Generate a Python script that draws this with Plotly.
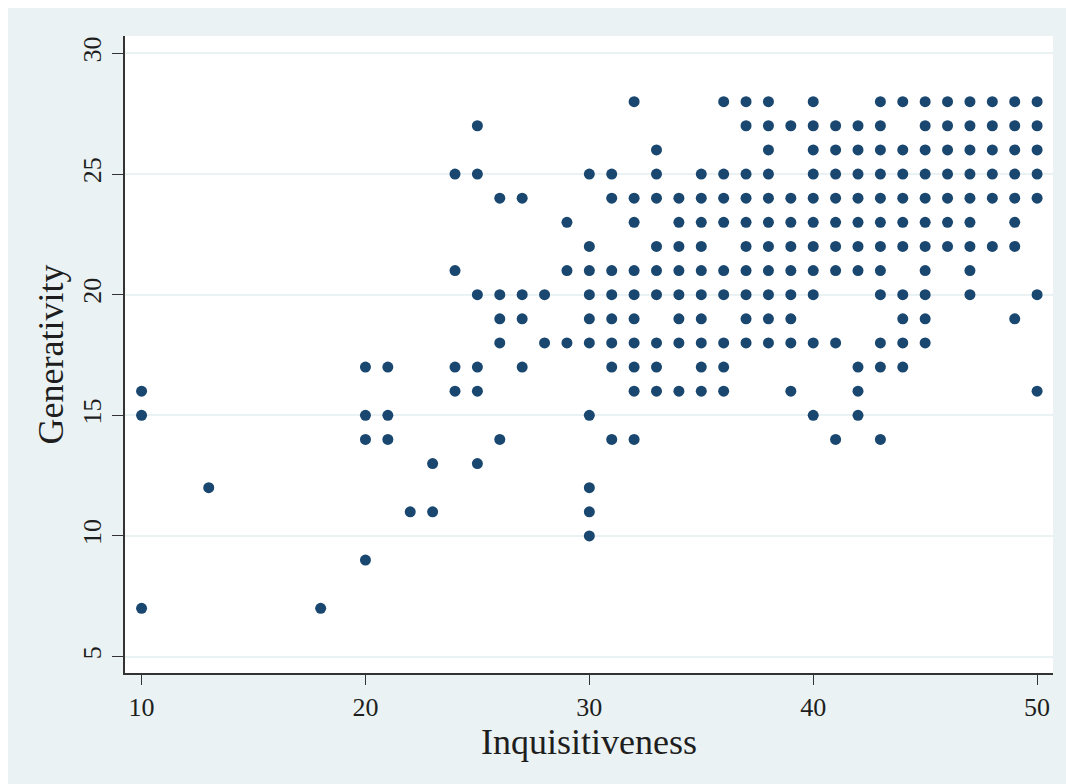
import plotly.graph_objects as go

# Inquisitiveness (x) and the Generativity values observed at each x
inq_values = [10, 13, 18, 20, 21, 22, 23, 24, 25, 26, 27, 28, 29, 30, 31, 32, 33, 34, 35,
              36, 37, 38, 39, 40, 41, 42, 43, 44, 45, 46, 47, 48, 49, 50]
gen_by_inq = [
    [16, 15, 7],                                   # 10
    [12],                                          # 13
    [7],                                           # 18
    [17, 15, 14, 9],                               # 20
    [17, 15, 14],                                  # 21
    [11],                                          # 22
    [13, 11],                                      # 23
    [25, 21, 17, 16],                              # 24
    [27, 25, 20, 17, 16, 13],                      # 25
    [24, 20, 19, 18, 14],                          # 26
    [24, 20, 19, 17],                              # 27
    [20, 18],                                      # 28
    [23, 21, 18],                                  # 29
    [25, 22, 21, 20, 19, 18, 15, 12, 11, 10],      # 30
    [25, 24, 21, 20, 19, 18, 17, 14],              # 31
    [28, 24, 23, 21, 20, 19, 18, 17, 16, 14],      # 32
    [26, 25, 24, 22, 21, 20, 18, 17, 16],          # 33
    [24, 23, 22, 21, 20, 19, 18, 16],              # 34
    [25, 24, 23, 22, 21, 20, 19, 18, 17, 16],      # 35
    [28, 25, 24, 23, 21, 20, 18, 17, 16],          # 36
    [28, 27, 25, 24, 23, 22, 21, 20, 19, 18],      # 37
    [28, 27, 26, 25, 24, 23, 22, 21, 20, 19, 18],  # 38
    [27, 24, 23, 22, 21, 20, 19, 18, 16],          # 39
    [28, 27, 26, 25, 24, 23, 22, 21, 20, 18, 15],  # 40
    [27, 26, 25, 24, 23, 22, 21, 18, 14],          # 41
    [27, 26, 25, 24, 23, 22, 21, 17, 16, 15],      # 42
    [28, 27, 26, 25, 24, 23, 22, 21, 20, 18, 17, 14],  # 43
    [28, 26, 25, 24, 23, 22, 20, 19, 18, 17],      # 44
    [28, 27, 26, 25, 24, 23, 22, 21, 20, 19, 18],  # 45
    [28, 27, 26, 25, 24, 23, 22],                  # 46
    [28, 27, 26, 25, 24, 23, 22, 21, 20],          # 47
    [28, 27, 26, 25, 24, 22],                      # 48
    [28, 27, 26, 25, 24, 23, 22, 19],              # 49
    [28, 27, 26, 25, 24, 20, 16],                  # 50
]

x_ticks = [10, 20, 30, 40, 50]
y_ticks = [5, 10, 15, 20, 25, 30]
x_title = "Inquisitiveness"
y_title = "Generativity"

xs, ys = [], []
for xv, gl in zip(inq_values, gen_by_inq):
    for gv in gl:
        xs.append(xv)
        ys.append(gv)

NAVY = "#1a476f"
BG = "#eaf2f3"
FONT = "Liberation Serif"
TXT = "#1e1e1e"

fig = go.Figure()
fig.add_trace(go.Scatter(
    x=xs, y=ys, mode="markers",
    marker=dict(color=NAVY, size=11, line=dict(width=0)),
    showlegend=False,
))

W, H = 1066, 784
ml, mr, mt, mb = 125, 13, 36, 111
pw, ph = W - ml - mr, H - mt - mb

fig.update_layout(
    width=W, height=H,
    margin=dict(l=ml, r=mr, t=mt, b=mb, pad=0),
    paper_bgcolor="white",
    plot_bgcolor="white",
    font=dict(family=FONT, color=TXT, size=26),
    shapes=[
        dict(type="rect", xref="paper", yref="paper", layer="below",
             x0=(8 - ml) / pw, x1=(W - ml + 5) / pw,
             y0=-(mb + 5) / ph, y1=(ph + mt - 8) / ph,
             fillcolor=BG, line=dict(width=0)),
        dict(type="rect", xref="paper", yref="paper", layer="below",
             x0=0, x1=1, y0=0, y1=1,
             fillcolor="white", line=dict(width=0)),
    ],
)

fig.update_xaxes(
    range=[9.26, 50.71], tickvals=x_ticks, ticktext=[str(t) for t in x_ticks],
    showgrid=False, zeroline=False,
    showline=True, linecolor="#333333", linewidth=1.5,
    ticks="outside", ticklen=10, tickwidth=1.3, tickcolor="#333333",
    tickfont=dict(family=FONT, size=26, color=TXT),
    title=dict(text=x_title, font=dict(family=FONT, size=36, color=TXT), standoff=5),
)
fig.update_yaxes(
    range=[4.32, 30.72], tickvals=y_ticks, ticktext=[str(t) for t in y_ticks],
    showgrid=True, gridcolor=BG, gridwidth=2, zeroline=False,
    showline=True, linecolor="#333333", linewidth=1.5,
    ticks="outside", ticklen=11, tickwidth=1.3, tickcolor="#333333",
    tickangle=-90, ticklabelstandoff=1,
    tickfont=dict(family=FONT, size=26, color=TXT),
    title=dict(text=y_title, font=dict(family=FONT, size=36, color=TXT), standoff=3),
)

fig.write_html("out.html")
